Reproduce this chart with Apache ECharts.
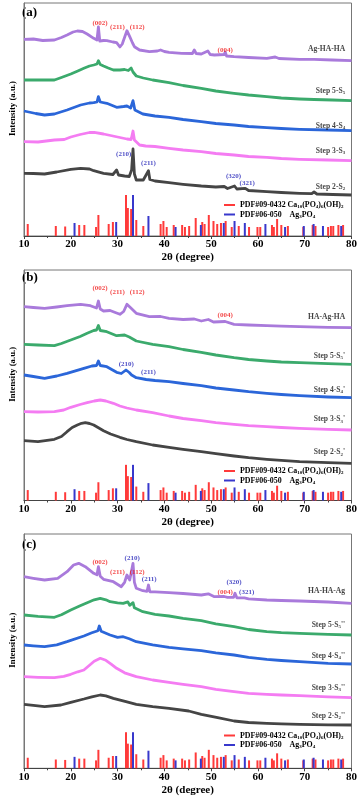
<!DOCTYPE html>
<html><head><meta charset="utf-8">
<script src="https://cdn.jsdelivr.net/npm/echarts@6/dist/echarts.min.js"></script>
<style>html,body{margin:0;padding:0;background:#fff}#c{width:360px;height:798px}</style>
</head><body><div id="c"></div>
<script>
// ---------- DATA ----------
// Reference stick patterns (2θ, relative height)
const haX = [10.8,16.8,18.8,21.8,22.9,25.4,25.9,28.1,29.0,31.8,32.2,32.9,34.0,35.5,39.2,39.8,40.5,42.0,43.8,44.4,45.3,46.7,48.1,48.6,49.5,50.5,51.3,52.1,53.1,54.4,55.9,58.1,59.9,60.5,63.0,63.4,64.1,65.0,66.4,69.7,71.7,72.3,75.0,75.6,76.1,77.2,78.2];
const haH = [12,10,9.5,11,11,9,21,12,14,41,28,27,16,10,12,15,9,11,11,9,10,18,14,12,21,15,12,13,15,9,10,9,9,9,11,9,17,11,10,9,11,10,9,10,10,11,11];
const agX = [20.8,29.7,33.3,36.6,42.4,47.8,52.7,55.0,57.2,61.6,65.8,69.8,71.9,73.9,77.8];
const agH = [13,14,41,20,9,11,13,15,13,12,9,10,12,10,10];

// Panel (a) patterns
const aAgHAHA = [[10,196.7],[12,197],[14,195.5],[16.5,196],[18,198.5],[19.2,201],[20.5,204],[21.4,205],[22.5,204.5],[23.5,202],[24.9,197.7],[25.6,196],[25.9,209],[26.2,195],[27,195.5],[27.7,195.3],[29,194],[29.8,193.3],[30.5,189],[31,192],[31.6,200],[32,205.3],[32.6,199.3],[33.2,193],[33.6,189.3],[34.7,186],[36.8,184.3],[38.5,185],[39.2,186],[40,184.5],[41,183.7],[43.7,182.7],[46,182.5],[46.4,186],[46.8,182.5],[47.9,182],[49.3,185],[49.8,181.5],[50.7,181],[52.8,181.5],[53,184],[53.3,180],[54.9,179.3],[58,178.5],[61.9,177.7],[63.7,179],[64.5,177.5],[68.9,176.7],[72,176.7],[75.9,176],[80,175.3]];
const aS5 = [[10,156],[13,156],[16.5,156],[18,158.5],[20,162],[21.5,165],[22.8,167.7],[24,170],[24.9,171],[25.6,172],[25.9,175.3],[26.3,171.5],[27,170],[28,168],[29.1,166],[30.5,166],[31.5,166.5],[32.3,165.5],[32.9,168],[33.3,164],[34,160],[35.5,158],[37.5,156],[41,153.3],[44,150.5],[47.9,147.7],[51,145],[54.9,142.7],[58,141],[61.9,139.3],[65,138],[68.9,137],[72,136.5],[75.9,136],[80,135.3]];
const aS4 = [[10,125],[12.5,122.5],[14.4,121],[16.5,122],[19.2,126],[22.1,131],[24,133],[24.9,133.3],[25.6,134],[25.9,139.3],[26.3,134],[27.7,132.7],[29.8,128.7],[31.3,129.5],[32,130],[32.8,128],[33.3,135.3],[33.7,126],[34,124.3],[35.4,122],[38,120],[41,118.7],[44,116.5],[47.9,114.3],[51,112.5],[54.9,111],[58,109.5],[61.9,108.3],[65,107.5],[68.9,106.7],[75,106],[80,105.3]];
const aS3 = [[10,94.3],[13,94],[16.5,96],[18.6,96.5],[20,99],[22,101.5],[24,103.5],[25,103.7],[27,102],[29,100],[30.5,98.5],[32,97],[32.9,96.5],[33.3,105],[33.6,96],[34.7,91],[36,90],[38,89.5],[41,87.7],[44,86],[47.9,84.3],[51,82.5],[54.9,81],[58,79.5],[61.9,78.7],[65,77.5],[68.9,76.7],[75,76],[80,75.3]];
const aS2 = [[10,62.7],[12,62.5],[14.4,62],[17,64],[20,66.7],[22.1,67.7],[24,67],[24.9,65.3],[27,62.7],[29,61.5],[29.8,66],[30.2,61],[31.5,60],[32.5,59.5],[33,66],[33.3,87],[33.6,62],[34,56],[35.5,56],[36.6,65.3],[36.9,56.5],[38,55],[41,53.3],[44,51.7],[47.9,50],[51,49],[52.8,49.5],[53.5,47.5],[55,50],[55.5,47],[57.3,47.7],[58,45.5],[61.9,44.3],[65,43.5],[68.9,42.7],[71.5,42.3],[72,44],[72.6,42],[76,41.5],[80,41]];

// Panel (b) patterns
const bHAAgHA = [[10,193.8],[12,193],[14.4,192.2],[17,193.5],[19.2,194.8],[22.1,196.2],[24.2,194.8],[25.5,192.5],[25.9,199.5],[26.3,191.5],[27,189.5],[28.4,190],[29.5,188],[30.5,186.2],[31.3,189],[32,196.2],[32.9,192.2],[34,187.2],[36.8,183.8],[39.2,184],[41,182.2],[44,181],[46.4,181.5],[47.9,179.5],[49.4,181],[50.5,178.5],[53,179],[54.9,176.2],[58,175.5],[61.9,174.8],[65,174.3],[68.9,173.8],[75,173.2],[80,172.8]];
const bS5 = [[10,156.2],[13,155.5],[16.5,154.8],[18,157],[20,160.5],[22,164],[23.5,167.2],[24.9,170],[25.5,170.5],[25.9,175],[26.3,170],[27.7,168.8],[29.8,164.8],[31.5,165.5],[32.5,163.5],[34,159.5],[37.5,156.2],[41,153.8],[44,151],[47.9,148.2],[51,145.5],[54.9,142.8],[58,141],[61.9,139.5],[65,138.5],[68.9,137.8],[75,136.8],[80,136.2]];
const bS4 = [[10,125.5],[12,124],[14.4,122.2],[17,124.5],[19.2,127.2],[22.8,132.2],[24.5,134.5],[25.5,135],[25.9,139.5],[26.3,135],[27.7,133.8],[29.8,128.2],[30.8,127],[31.8,130.5],[32.5,128],[33,125.5],[34,122.8],[36.1,121],[38,120],[41,118.8],[44,117],[47.9,114.8],[51,112.5],[54.9,110.5],[58,108.8],[61.9,107.2],[65,106],[68.9,104.8],[75,103.5],[80,102.8]];
const bS3 = [[10,88.8],[13,88.5],[16.5,88.8],[18.5,90.5],[20,93.2],[22,96],[23.5,97.8],[25,99.5],[26.3,100.5],[27.5,99.5],[29.1,97.2],[30.5,94.5],[32,92.5],[34,90.5],[37.5,87.8],[41,84.5],[44,82],[47.9,79.8],[51,77.8],[54.9,76.2],[58,74.8],[61.9,73.8],[65,73],[68.9,72.2],[75,71.2],[80,70.5]];
const bS2 = [[10,59.8],[13,58.8],[16.5,61.2],[18,64],[19.2,68.8],[20.3,73],[21.4,75.5],[22.3,77.2],[23.1,77.8],[24,77],[24.9,75.5],[26,72.5],[27,69.8],[28.5,66.5],[30.5,63.2],[32,61],[34,58.8],[37.5,55.5],[41,53.2],[44,51.2],[47.9,48.8],[51,46.8],[54.9,44.5],[58,42.8],[61.9,41.2],[65,40.2],[68.9,38.8],[75,37.8],[80,37.2]];

// Panel (c) patterns
const cHAHAAg = [[10,191.6],[12,190],[14.4,188.3],[17.2,190],[19.2,196.6],[20.6,203.3],[21.7,205],[23.1,201.6],[24.9,195],[25.6,193.5],[25.9,201.6],[26.3,192],[27,189],[29.1,186.6],[30.8,181.6],[31.5,186],[32,193.3],[32.6,188.3],[33,190],[33.3,205],[33.6,186],[34,180],[35.4,177.6],[36.3,177],[36.6,183.3],[36.9,176.5],[38,176.5],[41,175.6],[44,174.8],[47.9,173.3],[49.4,174.5],[50.7,171.6],[52.8,171.8],[53,173.3],[53.5,171],[54.8,171],[55.1,175],[55.5,170.5],[57.1,170.5],[57.4,172.5],[58,169.5],[61.9,168.3],[65,167.8],[68.9,167.3],[75,166.3],[80,165]];
const cS5 = [[10,153.3],[13,152],[16.5,151],[18,153.5],[20,158.3],[22,162.5],[23.5,165.6],[25,168.5],[26.3,170],[27.5,168.5],[28.4,166.6],[30,165.5],[31.2,165],[32.2,166.5],[32.6,163],[33.3,165.6],[33.6,160.5],[35.4,156.6],[38,154],[41,152.3],[44,150],[47.9,147.6],[51,144.5],[54.9,141.6],[58,138.8],[61.9,136.6],[65,135.6],[68.9,135],[75,134],[80,133.3]];
const cS4 = [[10,123.3],[12,122.5],[14.4,121.6],[17,123.5],[19.2,126.6],[22.8,132.3],[24.5,135.5],[25.8,137.6],[26.1,142.3],[26.5,137],[28.4,133.3],[30,131],[31.2,131.6],[32.5,129.5],[34,126.6],[37.5,123.5],[41,121],[44,119.5],[47.9,117.6],[51,115.5],[54.9,113.3],[58,111],[61.9,109],[65,107.8],[68.9,106.6],[75,105],[80,104.3]];
const cS3 = [[10,91.6],[13,91],[16.5,90.6],[18.5,92],[20,94],[21.5,96.5],[22.8,98.3],[24,103],[25,107],[26.3,110],[27.5,108],[28.7,104],[29.8,100],[31.5,95.5],[34,91.6],[37.5,88.3],[41,86],[44,84],[47.9,81.6],[51,79],[54.9,76.6],[58,75],[61.9,74],[65,73.3],[68.9,72.6],[75,71.5],[80,70.6]];
const cS2 = [[10,64],[12,63],[14.4,61.6],[17.9,63.3],[20,66],[22.8,69.3],[24.5,71.5],[26.3,73.3],[27.5,72.5],[29.1,70],[31.8,66.6],[34,64],[37.5,61.6],[41,60],[45.2,57.3],[47.9,54],[51.4,50.6],[54.9,47.3],[58,45.8],[61.9,45],[65,44.5],[68.9,44],[75,43.5],[80,43.3]];

// Text
const panelTags = ['(a)','(b)','(c)'];
const seriesNamesA = ['Ag-HA-HA','Step 5-S{s|5}','Step 4-S{s|4}','Step 3-S{s|3}','Step 2-S{s|2}'];
const seriesNamesB = ['HA-Ag-HA',"Step 5-S{s|5}'","Step 4-S{s|4}'","Step 3-S{s|3}'","Step 2-S{s|2}'"];
const seriesNamesC = ['HA-HA-Ag',"Step 5-S{s|5}''","Step 4-S{s|4}''","Step 3-S{s|3}''","Step 2-S{s|2}''"];
const HA_NAME = 'PDF#09-0432 Ca10(PO4)6(OH)2';
const AG_NAME = 'PDF#06-050 Ag3PO4';

// Annotation anchors (2θ, intensity units of each panel)
const nameAnchorsA = [[78.75,187],[78.75,145],[78.75,110],[78.75,85],[78.75,49]];
const nameAnchorsB = [[78.75,183.2],[78.75,144.5],[78.75,110.5],[78.75,81.2],[78.75,48.2]];
const nameAnchorsC = [[78.75,177.6],[78.75,143.3],[78.75,112.3],[78.75,80.6],[78.75,52.6]];
const hklA = [['(002)',26.26,213.3,'r'],['(211)',29.98,209.3,'r'],['(112)',34.17,209.3,'r'],['(004)',53.0,186,'r'],['(210)',31.3,81.7,'b'],['(211)',36.6,73.3,'b'],['(320)',54.8,60.3,'b'],['(321)',57.7,53.3,'b']];
const hklB = [['(002)',26.26,212.8,'r'],['(211)',29.98,208.8,'r'],['(112)',34.17,208.8,'r'],['(004)',53.0,185.5,'r'],['(210)',31.87,136.5,'b'],['(211)',36.6,128.2,'b']];
const hklC = [['(002)',26.26,206,'r'],['(211)',29.98,196,'r'],['(112)',34.17,196,'r'],['(210)',33.12,210.6,'b'],['(211)',36.76,189.3,'b'],['(320)',54.9,186,'b'],['(004)',53.0,176.6,'r'],['(321)',57.6,176.6,'b']];

// ---------- CHART ----------
const FONT = '"Liberation Serif","Times New Roman",serif';
const lineColors = ['#A97ADB','#3BAA6C','#2B66D9','#F47CF2','#454545'];
const panels = [
  {top:3, h:233, curves:[aAgHAHA,aS5,aS4,aS3,aS2], names:seriesNamesA, anchors:nameAnchorsA, hkl:hklA, stick:1.0, legTop:201, tagTop:6},
  {top:270, h:230.5, curves:[bHAAgHA,bS5,bS4,bS3,bS2], names:seriesNamesB, anchors:nameAnchorsB, hkl:hklB, stick:0.87, legTop:467, tagTop:271},
  {top:534, h:234.3, curves:[cHAHAAg,cS5,cS4,cS3,cS2], names:seriesNamesC, anchors:nameAnchorsC, hkl:hklC, stick:0.88, legTop:731.5, tagTop:538}
];
const legendRich = {};
legendRich[HA_NAME] = 'PDF#09-0432 Ca{s|10}(PO{s|4}){s|6}(OH){s|2}';
legendRich[AG_NAME] = 'PDF#06-050    Ag{s|3}PO{s|4}';

const grid=[], xAxis=[], yAxis=[], series=[], legend=[], graphic=[];
panels.forEach((p,i)=>{
  grid.push({left:19, right:7, top:p.top, height:p.h, show:true, borderColor:'#777', borderWidth:1});
  xAxis.push({type:'value', gridIndex:i, min:10, max:80, interval:10,
    name:'2θ (degree)', nameLocation:'middle', nameGap:16,
    nameTextStyle:{fontFamily:FONT, fontWeight:'bold', fontSize:11, color:'#000'},
    axisLine:{lineStyle:{color:'#444', width:1}},
    axisTick:{inside:false, length:3, lineStyle:{color:'#444'}},
    minorTick:{show:true, splitNumber:2, length:2, lineStyle:{color:'#444'}},
    splitLine:{show:false},
    axisLabel:{margin:3, fontFamily:FONT, fontWeight:'bold', fontSize:11, color:'#000'}});
  yAxis.push({type:'value', gridIndex:i, min:0, max:p.h,
    axisLine:{show:true, lineStyle:{color:'#777'}}, axisTick:{show:false}, axisLabel:{show:false}, splitLine:{show:false},
    name:'Intensity (a.u.)', nameLocation:'middle', nameGap:7,
    nameTextStyle:{fontFamily:FONT, fontWeight:'bold', fontSize:8.8, color:'#000', padding:[0,0,0,22]}});
  p.curves.forEach((d,k)=>{
    series.push({type:'line', xAxisIndex:i, yAxisIndex:i, data:d, showSymbol:false, silent:true,
      lineStyle:{color:lineColors[k], width:2.8, join:'round'}, z:3});
  });
  series.push({type:'bar', name:HA_NAME, xAxisIndex:i, yAxisIndex:i, barWidth:2, barGap:'-100%',
    data:haX.map((x,j)=>[x, haH[j]*p.stick]), itemStyle:{color:'#FF3A3A'}, silent:true});
  series.push({type:'bar', name:AG_NAME, xAxisIndex:i, yAxisIndex:i, barWidth:2, barGap:'-100%',
    data:agX.map((x,j)=>[x, agH[j]*p.stick]), itemStyle:{color:'#3838CC'}, silent:true});
  // curve names
  series.push({type:'scatter', xAxisIndex:i, yAxisIndex:i, symbolSize:1, silent:true, z:10,
    itemStyle:{color:'rgba(0,0,0,0)'},
    data:p.anchors.map((a,k)=>({value:a, label:{show:true, position:'left', distance:0, formatter:p.names[k],
      fontFamily:FONT, fontWeight:'bold', fontSize:7.6, color:'#111',
      rich:{s:{fontFamily:FONT, fontWeight:'bold', fontSize:5, color:'#111', padding:[4,0,0,0]}}}}))});
  // hkl labels
  series.push({type:'scatter', xAxisIndex:i, yAxisIndex:i, symbolSize:1, silent:true, z:10,
    itemStyle:{color:'rgba(0,0,0,0)'},
    data:p.hkl.map(h=>({value:[h[1],h[2]], label:{show:true, position:'inside', formatter:h[0],
      fontFamily:FONT, fontWeight:'bold', fontSize:7, color:h[3]==='r'?'#F01818':'#2020B8'}}))});
  legend.push({left:224, top:p.legTop, orient:'vertical', padding:0, itemGap:1, itemWidth:11, itemHeight:2,
    icon:'rect', selectedMode:false, data:[HA_NAME, AG_NAME],
    formatter:n=>legendRich[n],
    textStyle:{fontFamily:FONT, fontWeight:'bold', fontSize:7.9, color:'#000',
      rich:{s:{fontFamily:FONT, fontWeight:'bold', fontSize:5, color:'#000', padding:[4,0,0,0]}}}});
  graphic.push({type:'text', left:22, top:p.tagTop, style:{text:panelTags[i], font:'bold 13px '+FONT, fill:'#000'}});
});

const chart = echarts.init(document.getElementById('c'), null, {renderer:'canvas'});
chart.setOption({animation:false, backgroundColor:'#fff', grid, xAxis, yAxis, series, legend, graphic});
</script></body></html>
